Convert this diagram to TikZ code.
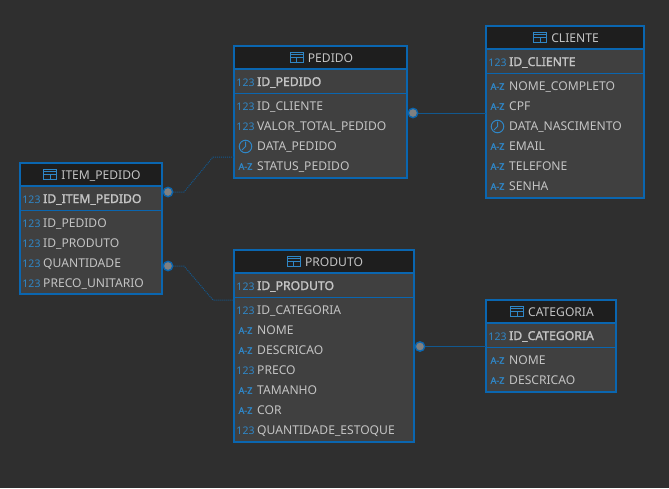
\documentclass[tikz,border=0pt]{standalone}
\usepackage{xcolor}
\usepackage{fontspec}
\setmainfont{Noto Sans}
\newfontface\keyface{Noto Sans}[FakeBold=1.6]
\usetikzlibrary{calc}
\definecolor{bgdark}{HTML}{2F2F2F}
\definecolor{bodygray}{HTML}{404040}
\definecolor{headdark}{HTML}{1E1E1E}
\definecolor{edgeblue}{HTML}{0A66B0}
\definecolor{iconblue}{HTML}{2F86C6}
\definecolor{textgray}{HTML}{C4C4C4}
\definecolor{dotgray}{HTML}{808080}
\definecolor{linkblue}{HTML}{12588F}
\tikzset{
  tablebox/.style={draw=edgeblue,line width=2.2pt,fill=bodygray,anchor=north west,inner sep=0pt,outer sep=0pt},
  coltext/.style={text=textgray,font=\fontsize{12.1}{12}\selectfont,anchor=west,inner sep=0pt,text height=9pt,text depth=3pt},
  keytext/.style={coltext,font=\fontsize{12.2}{12}\keyface},
  titletext/.style={coltext,anchor=center},
  numicon/.style={text=iconblue,font=\fontsize{10.5}{11}\selectfont,inner sep=0pt,node contents={123}},
  azicon/.style={text=iconblue,font=\fontsize{9}{9}\keyface,inner sep=0pt,node contents={A-Z}},
  clockicon/.style={circle,draw=iconblue,line width=1pt,minimum size=12.5pt,inner sep=0pt,node contents={},
    path picture={\draw[iconblue,line width=1pt](path picture bounding box.center)--++(0pt,5pt)
      (path picture bounding box.center)--++(-3.5pt,-3.5pt);}},
  gridicon/.style={rectangle,draw=iconblue,line width=1pt,minimum width=13pt,minimum height=10pt,inner sep=0pt,
    path picture={\draw[iconblue,line width=1pt]
      (path picture bounding box.west)--(path picture bounding box.east)
      (path picture bounding box.center)--(path picture bounding box.south)
      ([yshift=-2pt]path picture bounding box.north west)--([yshift=-2pt]path picture bounding box.north east);}},
  joindot/.style={circle,draw=edgeblue,line width=1.4pt,fill=dotgray,minimum size=9.4pt,inner sep=0pt},
  solidlink/.style={linkblue,line width=1pt},
  dotlink/.style={linkblue,line width=1pt,densely dotted},
}
% name, left, top, width, height, title
\newcommand{\erbox}[6]{
  \node[tablebox,minimum width=#4pt,minimum height=#5pt] (#1) at (#2,#3) {};
  \fill[headdark] (#2+1.1,#3+1.1) rectangle (#2+#4-1.1,#3+23);
  \draw[edgeblue,line width=1.2pt] (#2,#3+23)--(#2+#4,#3+23);
  \draw[edgeblue,line width=0.8pt] (#2,#3+47)--(#2+#4,#3+47);
  \node[titletext] (#1-title) at (#2+#4/2+10,#3+13) {#6};
  \node[gridicon,anchor=east,xshift=-4pt,yshift=1.5pt] (#1-grid) at (#1-title.west) {};
}
\begin{document}
\begin{tikzpicture}[x=1pt,y=-1pt]
    \fill[bgdark] (0,0) rectangle (669,488);
    \useasboundingbox (0,0) rectangle (669,488);

    \erbox{pedido}{234}{46}{173}{132}{PEDIDO}
    \erbox{cliente}{486}{26}{158}{172}{CLIENTE}
    \erbox{item}{20}{163}{142}{131}{ITEM\_PEDIDO}
    \erbox{produto}{234}{250}{180}{192}{PRODUTO}
    \erbox{categoria}{486}{300}{130}{92}{CATEGORIA}

    % primary keys
    \foreach \tab/\x/\y/\txt in {pedido/234/82/ID\_PEDIDO,cliente/486/62/ID\_CLIENTE,item/20/199/ID\_ITEM\_PEDIDO,
      produto/234/286/ID\_PRODUTO,categoria/486/336/ID\_CATEGORIA}{
      \node (\tab-keyicon) at (\x+11.5,\y+1) [numicon];
      \node[keytext] (\tab-key) at (\x+23,\y+1) {\txt};
    }

    % columns
    \foreach \ico/\txt [count=\i] in {numicon/ID\_CLIENTE,numicon/VALOR\_TOTAL\_PEDIDO,clockicon/DATA\_PEDIDO,azicon/STATUS\_PEDIDO}{
      \node (pedido-icon\i) at (245.5,86.5+20*\i) [\ico];
      \node[coltext] (pedido-col\i) at (257,87+20*\i) {\txt};
    }
    \foreach \ico/\txt [count=\i] in {azicon/NOME\_COMPLETO,azicon/CPF,clockicon/DATA\_NASCIMENTO,azicon/EMAIL,azicon/TELEFONE,azicon/SENHA}{
      \node (cliente-icon\i) at (497.5,66.5+20*\i) [\ico];
      \node[coltext] (cliente-col\i) at (509,67+20*\i) {\txt};
    }
    \foreach \ico/\txt [count=\i] in {numicon/ID\_PEDIDO,numicon/ID\_PRODUTO,numicon/QUANTIDADE,numicon/PRECO\_UNITARIO}{
      \node (item-icon\i) at (31.5,203.5+20*\i) [\ico];
      \node[coltext] (item-col\i) at (43,204+20*\i) {\txt};
    }
    \foreach \ico/\txt [count=\i] in {numicon/ID\_CATEGORIA,azicon/NOME,azicon/DESCRICAO,numicon/PRECO,azicon/TAMANHO,azicon/COR,numicon/QUANTIDADE\_ESTOQUE}{
      \node (produto-icon\i) at (245.5,290.5+20*\i) [\ico];
      \node[coltext] (produto-col\i) at (257,291+20*\i) {\txt};
    }
    \foreach \ico/\txt [count=\i] in {azicon/NOME,azicon/DESCRICAO}{
      \node (categoria-icon\i) at (497.5,340.5+20*\i) [\ico];
      \node[coltext] (categoria-col\i) at (509,341+20*\i) {\txt};
    }

    % joins
    \node[joindot] (dotpedido) at (413,113) {};
    \node[joindot] (dotproduto) at (420,346.5) {};
    \node[joindot] (dotitema) at (168,192) {};
    \node[joindot] (dotitemb) at (168,266) {};
    \coordinate (benda1) at (184,192);
    \coordinate (benda2) at (213,157);
    \coordinate (bendb1) at (184,266);
    \coordinate (bendb2) at (213,300);
    \draw[solidlink] (dotpedido)--(dotpedido-|cliente.west);
    \draw[solidlink] (dotproduto)--(dotproduto-|categoria.west);
    \draw[dotlink] (dotitema)--(benda1)--(benda2)--(benda2-|pedido.west);
    \draw[dotlink] (dotitemb)--(bendb1)--(bendb2)--(bendb2-|produto.west);
\end{tikzpicture}
\end{document}
